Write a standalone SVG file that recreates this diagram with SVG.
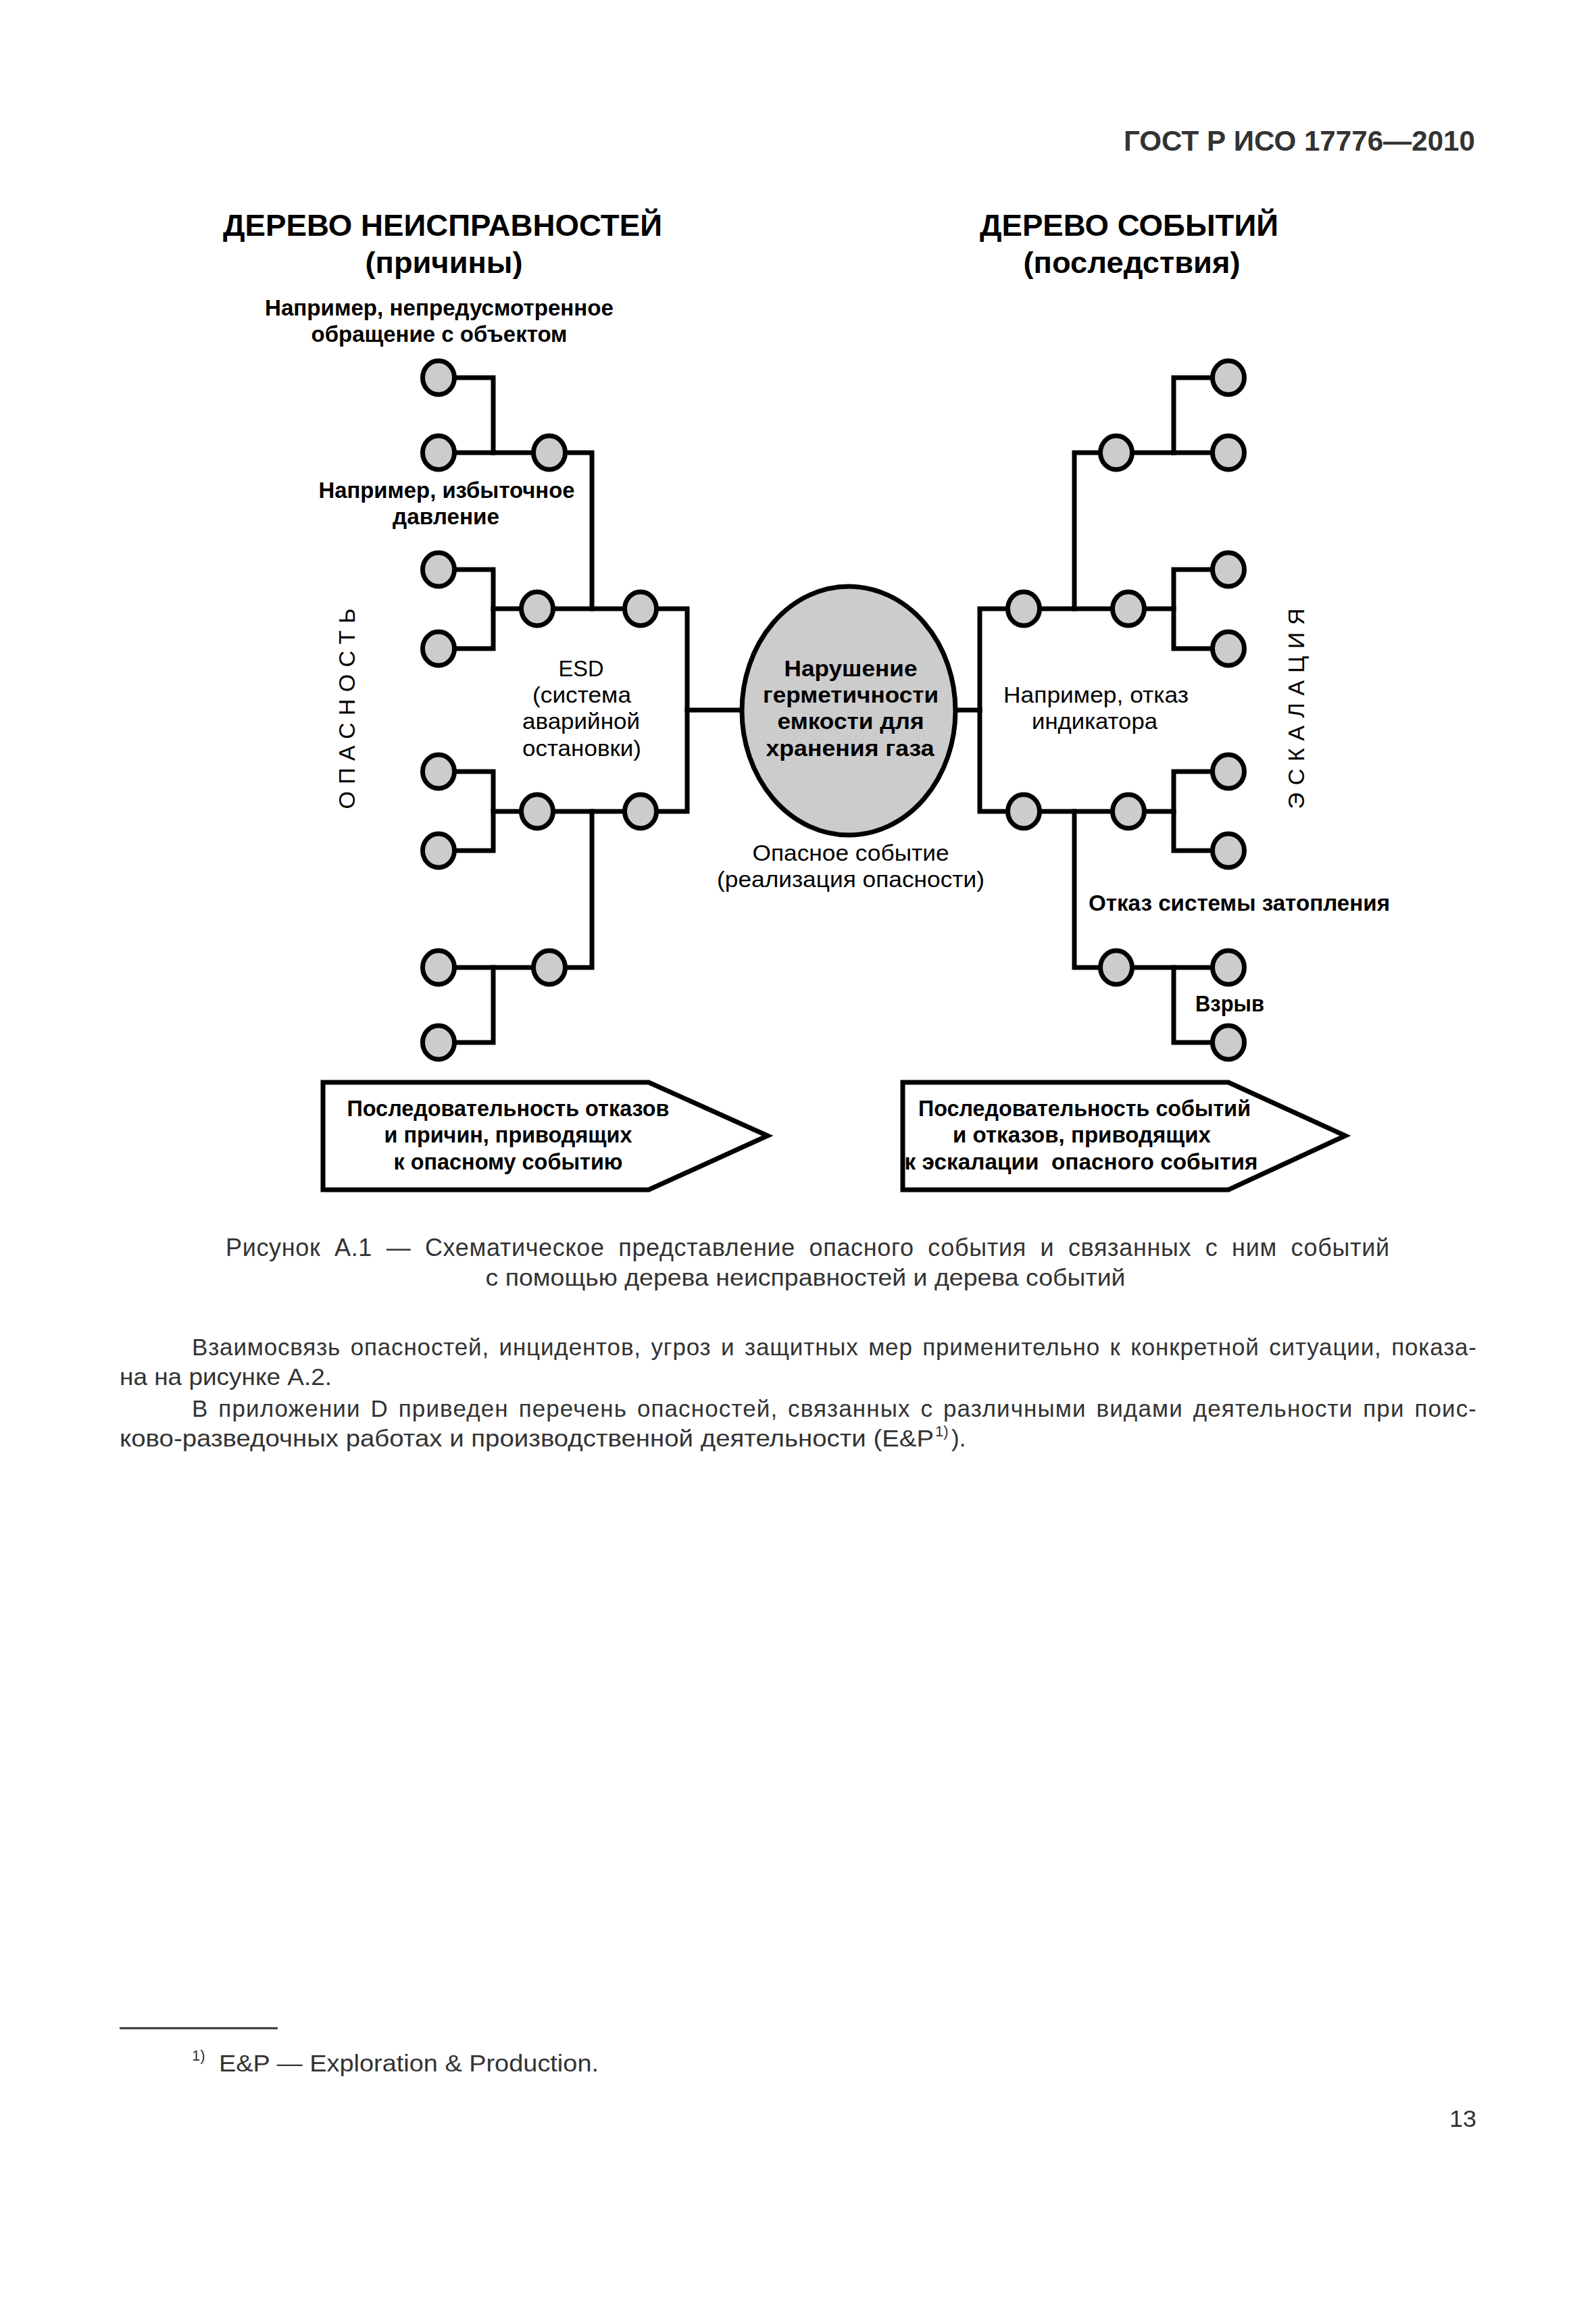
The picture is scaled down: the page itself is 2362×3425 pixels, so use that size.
<svg xmlns="http://www.w3.org/2000/svg" width="2362" height="3425" viewBox="0 0 2362 3425">
<style>
text{font-family:"Liberation Sans",Arial,sans-serif;fill:#000}
.hdr{font-size:42px;font-weight:bold;fill:#333}
.ttl{font-size:45px;font-weight:bold;text-anchor:middle}
.lb{font-size:33px;font-weight:bold;text-anchor:middle}
.lr{font-size:33px;text-anchor:middle}
.vt{font-size:34px;text-anchor:middle}
.body{font-size:35px;fill:#333}
.cap{font-size:36px;fill:#333}
.sup{font-size:22px;fill:#333}
.c{fill:#cccccc;stroke:#000;stroke-width:7}
.ln{fill:none;stroke:#000;stroke-width:7;stroke-linejoin:miter;stroke-linecap:square}
.box{fill:#fff;stroke:#000;stroke-width:7;stroke-linejoin:miter}
</style>
<defs>
<ellipse id="dot" cx="0" cy="0" rx="23.5" ry="25" class="c"/>
</defs>
<rect width="2362" height="3425" fill="#fff"/>

<text class="hdr" x="2183" y="223" text-anchor="end" textLength="520" lengthAdjust="spacingAndGlyphs">ГОСТ Р ИСО 17776—2010</text>

<g id="titles">
<text class="ttl" x="655" y="349" textLength="650" lengthAdjust="spacingAndGlyphs">ДЕРЕВО НЕИСПРАВНОСТЕЙ</text>
<text class="ttl" x="657" y="404" textLength="233" lengthAdjust="spacingAndGlyphs">(причины)</text>
<text class="ttl" x="1671" y="349" textLength="442" lengthAdjust="spacingAndGlyphs">ДЕРЕВО СОБЫТИЙ</text>
<text class="ttl" x="1675" y="404" textLength="321" lengthAdjust="spacingAndGlyphs">(последствия)</text>
</g>

<g id="connectors">
<!-- left tree -->
<polyline class="ln" points="649,559 730,559 730,670"/>
<polyline class="ln" points="649,670 876,670 876,901"/>
<polyline class="ln" points="649,843 730,843 730,960 649,960"/>
<polyline class="ln" points="730,901 1017,901 1017,1201 730,1201"/>
<polyline class="ln" points="649,1142 730,1142 730,1259 649,1259"/>
<polyline class="ln" points="876,1201 876,1432 649,1432"/>
<polyline class="ln" points="730,1432 730,1543 649,1543"/>
<line class="ln" x1="1017" y1="1051" x2="1100" y2="1051"/>
<!-- right tree -->
<line class="ln" x1="1412" y1="1051" x2="1450" y2="1051"/>
<polyline class="ln" points="1737,901 1450,901 1450,1201 1737,1201"/>
<polyline class="ln" points="1818,843 1737,843 1737,960 1818,960"/>
<polyline class="ln" points="1818,1142 1737,1142 1737,1259 1818,1259"/>
<polyline class="ln" points="1590,901 1590,670 1818,670"/>
<polyline class="ln" points="1818,559 1737,559 1737,670"/>
<polyline class="ln" points="1590,1201 1590,1432 1818,1432"/>
<polyline class="ln" points="1737,1432 1737,1543 1818,1543"/>
</g>

<g id="fault-tree">
<use href="#dot" x="649" y="559"/>
<use href="#dot" x="649" y="670"/>
<use href="#dot" x="813" y="670"/>
<use href="#dot" x="649" y="843"/>
<use href="#dot" x="649" y="960"/>
<use href="#dot" x="795" y="901"/>
<use href="#dot" x="948" y="901"/>
<use href="#dot" x="649" y="1142"/>
<use href="#dot" x="649" y="1259"/>
<use href="#dot" x="795" y="1201"/>
<use href="#dot" x="948" y="1201"/>
<use href="#dot" x="649" y="1432"/>
<use href="#dot" x="813" y="1432"/>
<use href="#dot" x="649" y="1543"/>
</g>

<g id="event-tree">
<use href="#dot" x="1818" y="559"/>
<use href="#dot" x="1652" y="670"/>
<use href="#dot" x="1818" y="670"/>
<use href="#dot" x="1515" y="901"/>
<use href="#dot" x="1670" y="901"/>
<use href="#dot" x="1818" y="843"/>
<use href="#dot" x="1818" y="960"/>
<use href="#dot" x="1515" y="1201"/>
<use href="#dot" x="1670" y="1201"/>
<use href="#dot" x="1818" y="1142"/>
<use href="#dot" x="1818" y="1259"/>
<use href="#dot" x="1652" y="1432"/>
<use href="#dot" x="1818" y="1432"/>
<use href="#dot" x="1818" y="1543"/>
</g>

<g id="hazardous-event">
<ellipse cx="1256" cy="1052" rx="158" ry="184" class="c"/>
<text class="lb" x="1259" y="1001" textLength="197" lengthAdjust="spacingAndGlyphs">Нарушение</text>
<text class="lb" x="1259" y="1040" textLength="260" lengthAdjust="spacingAndGlyphs">герметичности</text>
<text class="lb" x="1259" y="1079" textLength="217" lengthAdjust="spacingAndGlyphs">емкости для</text>
<text class="lb" x="1258" y="1119" textLength="249" lengthAdjust="spacingAndGlyphs">хранения газа</text>
</g>

<g id="labels">
<text class="lb" x="650" y="467" textLength="516" lengthAdjust="spacingAndGlyphs">Например, непредусмотренное</text>
<text class="lb" x="650" y="506" textLength="379" lengthAdjust="spacingAndGlyphs">обращение с объектом</text>
<text class="lb" x="661" y="737" textLength="379" lengthAdjust="spacingAndGlyphs">Например, избыточное</text>
<text class="lb" x="660" y="776" textLength="158" lengthAdjust="spacingAndGlyphs">давление</text>
<text class="lr" x="860" y="1001" textLength="67" lengthAdjust="spacingAndGlyphs">ESD</text>
<text class="lr" x="861" y="1040" textLength="146" lengthAdjust="spacingAndGlyphs">(система</text>
<text class="lr" x="860" y="1079" textLength="174" lengthAdjust="spacingAndGlyphs">аварийной</text>
<text class="lr" x="861" y="1119" textLength="176" lengthAdjust="spacingAndGlyphs">остановки)</text>
<text class="lr" x="1622" y="1040" textLength="274" lengthAdjust="spacingAndGlyphs">Например, отказ</text>
<text class="lr" x="1620" y="1079" textLength="186" lengthAdjust="spacingAndGlyphs">индикатора</text>
<text class="lr" x="1259" y="1274" textLength="291" lengthAdjust="spacingAndGlyphs">Опасное событие</text>
<text class="lr" x="1259" y="1313" textLength="396" lengthAdjust="spacingAndGlyphs">(реализация опасности)</text>
<text class="lb" x="1834" y="1348" textLength="446" lengthAdjust="spacingAndGlyphs">Отказ системы затопления</text>
<text class="lb" x="1820" y="1497" textLength="102" lengthAdjust="spacingAndGlyphs">Взрыв</text>
<text class="vt" transform="translate(525,1049) rotate(-90)" textLength="297" lengthAdjust="spacing">ОПАСНОСТЬ</text>
<text class="vt" transform="translate(1930,1049) rotate(-90)" textLength="297" lengthAdjust="spacing">ЭСКАЛАЦИЯ</text>
</g>

<g id="arrow-causes">
<polygon class="box" points="478,1602 960,1602 1136,1681 960,1761 478,1761"/>
<text class="lb" x="752" y="1652" textLength="477" lengthAdjust="spacingAndGlyphs">Последовательность отказов</text>
<text class="lb" x="752" y="1691" textLength="367" lengthAdjust="spacingAndGlyphs">и причин, приводящих</text>
<text class="lb" x="752" y="1731" textLength="339" lengthAdjust="spacingAndGlyphs">к опасному событию</text>
</g>

<g id="arrow-consequences">
<polygon class="box" points="1336,1602 1818,1602 1991,1681 1818,1761 1336,1761"/>
<text class="lb" x="1605" y="1652" textLength="492" lengthAdjust="spacingAndGlyphs">Последовательность событий</text>
<text class="lb" x="1601" y="1691" textLength="382" lengthAdjust="spacingAndGlyphs">и отказов, приводящих</text>
<text class="lb" x="1600" y="1731" textLength="523" lengthAdjust="spacingAndGlyphs" xml:space="preserve">к эскалации  опасного события</text>
</g>

<g id="caption">
<text class="cap" x="334" y="1859" word-spacing="10" textLength="1722" lengthAdjust="spacing">Рисунок А.1 — Схематическое представление опасного события и связанных с ним событий</text>
<text class="body" x="1192" y="1903" text-anchor="middle" textLength="947" lengthAdjust="spacingAndGlyphs">с помощью дерева неисправностей и дерева событий</text>
</g>

<g id="body-text">
<text class="body" x="284" y="2006" word-spacing="4" textLength="1901" lengthAdjust="spacing">Взаимосвязь опасностей, инцидентов, угроз и защитных мер применительно к конкретной ситуации, показа-</text>
<text class="body" x="177" y="2050" textLength="314" lengthAdjust="spacingAndGlyphs">на на рисунке А.2.</text>
<text class="body" x="284" y="2097" word-spacing="4" textLength="1901" lengthAdjust="spacing">В приложении D приведен перечень опасностей, связанных с различными видами деятельности при поис-</text>
<text class="body" x="177" y="2141" textLength="1205" lengthAdjust="spacingAndGlyphs">ково-разведочных работах и производственной деятельности (E&amp;P</text>
<text class="sup" x="1384" y="2126">1)</text>
<text class="body" x="1408" y="2141">).</text>
</g>

<g id="footnote">
<line x1="177" y1="3002" x2="411" y2="3002" stroke="#333" stroke-width="3"/>
<text class="sup" x="284" y="3050">1)</text>
<text class="body" x="324" y="3066" textLength="562" lengthAdjust="spacingAndGlyphs">E&amp;P — Exploration &amp; Production.</text>
<text class="body" x="2185" y="3148" text-anchor="end" textLength="40" lengthAdjust="spacingAndGlyphs">13</text>
</g>
</svg>
